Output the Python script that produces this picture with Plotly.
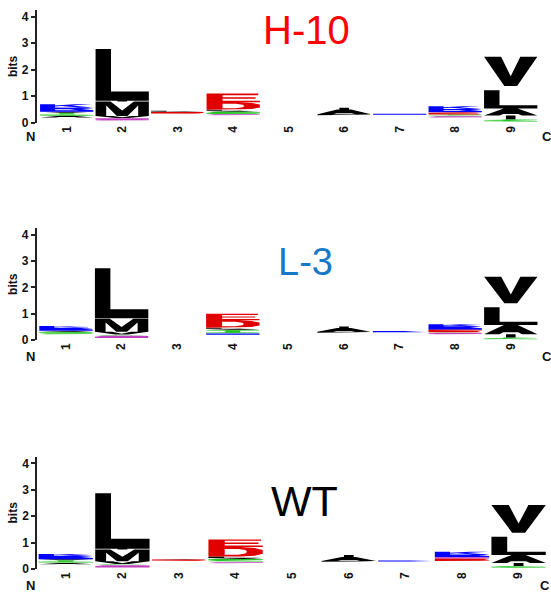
import plotly.graph_objects as go

# ---------------- data ----------------
positions = [1, 2, 3, 4, 5, 6, 7, 8, 9]
tick_labels = ["1", "2", "3", "4", "5", "6", "7", "8", "9"]
panel_titles = ["H-10", "L-3", "WT"]

# height (bits) of the sub-threshold letters at the bottom of each stack (not drawn)
h10_base = [0.20, 0.08, 0.34, 0.28, 0.0, 0.28, 0.30, 0.20, 0.04]
h10_letters = ["ASTVHRK", "QNVMIL", "DEAL", "QSGALDE", "", "PAI", "H", "QSTEDHRK", "STIALV"]
h10_heights = [
    [0.06, 0.06, 0.05, 0.04, 0.06, 0.10, 0.13],
    [0.05, 0.04, 0.08, 0.55, 0.03, 1.95],
    [0.03, 0.03, 0.02, 0.03],
    [0.04, 0.05, 0.04, 0.04, 0.04, 0.28, 0.33],
    [],
    [0.04, 0.18, 0.06],
    [0.04],
    [0.04, 0.04, 0.03, 0.05, 0.03, 0.05, 0.08, 0.10],
    [0.05, 0.03, 0.15, 0.27, 0.68, 1.27],
]

l3_base = [0.22, 0.08, 0.0, 0.20, 0.0, 0.28, 0.30, 0.22, 0.02]
l3_letters = ["GSAHRK", "NQSVMIL", "", "HSTGALDE", "", "PAI", "K", "QSEDHRK", "STIALV"]
l3_heights = [
    [0.04, 0.05, 0.04, 0.05, 0.06, 0.07],
    [0.04, 0.04, 0.03, 0.12, 0.50, 0.02, 1.90],
    [],
    [0.05, 0.05, 0.06, 0.03, 0.04, 0.04, 0.28, 0.25],
    [],
    [0.03, 0.15, 0.05],
    [0.04],
    [0.05, 0.03, 0.05, 0.04, 0.06, 0.07, 0.08],
    [0.05, 0.03, 0.12, 0.35, 0.68, 1.16],
]

wt_base = [0.18, 0.06, 0.30, 0.22, 0.0, 0.27, 0.28, 0.30, 0.04]
wt_letters = ["ASTVHRK", "NQSVMIL", "DEA", "QNSGALDE", "", "PAI", "K", "DENHRK", "STIALV"]
wt_heights = [
    [0.05, 0.05, 0.05, 0.04, 0.05, 0.07, 0.08],
    [0.04, 0.04, 0.03, 0.12, 0.45, 0.03, 2.10],
    [0.03, 0.03, 0.02],
    [0.04, 0.02, 0.05, 0.05, 0.04, 0.05, 0.36, 0.29],
    [],
    [0.03, 0.15, 0.08],
    [0.04],
    [0.04, 0.06, 0.04, 0.05, 0.06, 0.10],
    [0.05, 0.02, 0.12, 0.30, 0.69, 1.20],
]

# ---------------- styling ----------------
COLORS = {}
for aa in "AVLIPWFM":
    COLORS[aa] = "#000000"
for aa in "GSTYC":
    COLORS[aa] = "#1fc41f"
for aa in "KRH":
    COLORS[aa] = "#0000ff"
for aa in "DE":
    COLORS[aa] = "#e00000"
for aa in "QN":
    COLORS[aa] = "#c040c0"

GENERIC = [(0.15, 0), (0.85, 0), (1, 0.2), (1, 0.8), (0.85, 1), (0.15, 1), (0, 0.8), (0, 0.2)]
GLYPHS = {
    "L": [(0, 0), (1, 0), (1, 0.18), (0.29, 0.18), (0.29, 1), (0, 1)],
    "V": [(0, 1), (0.32, 1), (0.5, 0.42), (0.68, 1), (1, 1), (0.62, 0.13), (0.38, 0.13)],
    "M": [(0, 0), (0, 1), (0.28, 1), (0.5, 0.38), (0.72, 1), (1, 1), (1, 0), (0.8, 0),
          (0.8, 0.72), (0.6, 0), (0.4, 0), (0.2, 0.72), (0.2, 0)],
    "E": [(0, 0), (1, 0), (1, 0.19), (0.3, 0.19), (0.3, 0.41), (0.92, 0.41), (0.92, 0.59),
          (0.3, 0.59), (0.3, 0.81), (0.97, 0.81), (0.97, 1), (0, 1)],
    "D": [(0, 0), (0.6, 0), (0.85, 0.1), (1, 0.3), (1, 0.7), (0.85, 0.9), (0.6, 1), (0, 1),
          (0, 0.5), (0.3, 0.5), (0.3, 0.8), (0.55, 0.8), (0.68, 0.68), (0.71, 0.5),
          (0.68, 0.32), (0.55, 0.2), (0.3, 0.2), (0.3, 0.5), (0, 0.5)],
    "A": [(0, 0), (0.37, 1), (0.63, 1), (1, 0), (0.71, 0), (0.64, 0.22), (0.36, 0.22), (0.29, 0)],
    "I": [(0.41, 0), (0.59, 0), (0.59, 1), (0.41, 1)],
    "H": [(0, 0), (0.28, 0), (0.28, 0.42), (0.72, 0.42), (0.72, 0), (1, 0), (1, 1), (0.72, 1),
          (0.72, 0.58), (0.28, 0.58), (0.28, 1), (0, 1)],
    "K": [(0, 0), (0.28, 0), (0.28, 0.3), (0.4, 0.43), (0.72, 0), (1, 0), (0.58, 0.6),
          (0.98, 1), (0.64, 1), (0.28, 0.62), (0.28, 1), (0, 1)],
    "R": [(0, 0), (0.28, 0), (0.28, 0.4), (0.55, 0.4), (0.72, 0), (1, 0), (0.78, 0.46),
          (0.95, 0.6), (1, 0.75), (0.9, 0.95), (0.7, 1), (0, 1)],
    "T": [(0.36, 0), (0.64, 0), (0.64, 0.82), (1, 0.82), (1, 1), (0, 1), (0, 0.82), (0.36, 0.82)],
    "N": [(0, 0), (0.26, 0), (0.26, 0.6), (0.7, 0), (1, 0), (1, 1), (0.74, 1), (0.74, 0.4),
          (0.3, 1), (0, 1)],
    "P": [(0, 0), (0.28, 0), (0.28, 0.38), (0.75, 0.38), (0.95, 0.5), (1, 0.7), (0.95, 0.88),
          (0.75, 1), (0, 1)],
    "S": [(0, 0.1), (0.2, 0), (0.8, 0), (1, 0.15), (1, 0.45), (0.85, 0.55), (0.3, 0.65),
          (0.3, 0.78), (0.7, 0.78), (0.72, 0.7), (1, 0.7), (0.95, 0.9), (0.8, 1), (0.2, 1),
          (0, 0.85), (0, 0.55), (0.15, 0.45), (0.7, 0.35), (0.7, 0.22), (0.3, 0.22),
          (0.28, 0.3), (0, 0.3)],
}

FIG_W, FIG_H = 551, 592
# pixel geometry of each panel: axis x, centre of position 1, step, y of 0 bits, y of 4 bits
panels = [
    dict(title_idx=0, base=h10_base, letters=h10_letters, heights=h10_heights,
         axis_px=36.7, p1=66.7, step=55.5, y0=122.7, y4=16.7, nc_px=(30.0, 546.7, 137.0),
         title_px=(306.7, 30.0), title_size=40, title_color="#ff0000"),
    dict(title_idx=1, base=l3_base, letters=l3_letters, heights=l3_heights,
         axis_px=36.7, p1=66.0, step=55.6, y0=340.0, y4=235.0, nc_px=(30.0, 546.7, 356.7),
         title_px=(305.0, 261.5), title_size=38, title_color="#1878c8"),
    dict(title_idx=2, base=wt_base, letters=wt_letters, heights=wt_heights,
         axis_px=37.2, p1=65.8, step=56.6, y0=569.0, y4=463.3, nc_px=(30.0, 545.0, 585.0),
         title_px=(304.0, 500.5), title_size=43, title_color="#000000"),
]
YMAX = 4.25
STACK_W = 0.96

fig = go.Figure()
layout = dict(width=FIG_W, height=FIG_H, margin=dict(l=0, r=0, t=0, b=0),
              paper_bgcolor="white", plot_bgcolor="white", showlegend=False,
              annotations=[])

axis_font = dict(family="Liberation Sans", size=12, color="#111", weight="bold")
nc_font = dict(family="Liberation Sans", size=13, color="#111", weight="bold")

for k, p in enumerate(panels):
    sfx = "" if k == 0 else str(k + 1)
    xref, yref = "x" + sfx, "y" + sfx
    ppb = (p["y0"] - p["y4"]) / 4.0
    ytop_px = p["y0"] - YMAX * ppb
    ydom = [1 - p["y0"] / FIG_H, 1 - ytop_px / FIG_H]
    xlo = 1 + (p["axis_px"] - p["p1"]) / p["step"]
    xhi = 1 + (FIG_W - p["p1"]) / p["step"]

    # build letter polygons grouped by colour
    groups = {}
    for pos, base, lets, hts in zip(positions, p["base"], p["letters"], p["heights"]):
        y = base
        for aa, h in zip(lets, hts):
            poly = GLYPHS.get(aa, GENERIC)
            col = COLORS.get(aa, "#000000")
            gx, gy = groups.setdefault(col, ([], []))
            for (ux, uy) in poly:
                gx.append(pos + (ux - 0.5) * STACK_W)
                gy.append(y + uy * h)
            gx.append(pos + (poly[0][0] - 0.5) * STACK_W)
            gy.append(y + poly[0][1] * h)
            gx.append(None)
            gy.append(None)
            y += h
    for col, (gx, gy) in groups.items():
        fig.add_trace(go.Scatter(x=gx, y=gy, mode="lines", fill="toself", fillcolor=col,
                                 line=dict(width=0, color=col), hoverinfo="skip",
                                 xaxis=xref, yaxis=yref))

    layout["xaxis" + sfx] = dict(domain=[p["axis_px"] / FIG_W, 1], range=[xlo, xhi],
                                 tickvals=positions, ticktext=tick_labels, tickangle=-90,
                                 ticks="", showline=False, showgrid=False, zeroline=False,
                                 tickfont=dict(family="Liberation Sans", size=12,
                                               color="#111", weight="bold"),
                                 anchor=yref, automargin=False, fixedrange=True)
    layout["yaxis" + sfx] = dict(domain=ydom, range=[0, YMAX], tickvals=[0, 1, 2, 3, 4],
                                 ticks="outside", ticklen=4, tickwidth=1.5, tickcolor="#222",
                                 showline=True, linewidth=1.5, linecolor="#222",
                                 showgrid=False, zeroline=False, tickfont=axis_font,
                                 title=dict(text="bits", font=axis_font, standoff=2),
                                 anchor=xref, automargin=False, fixedrange=True)

    # N / C terminus labels
    nx, cx, ncy = p["nc_px"]
    for txt, xx in (("N", nx), ("C", cx)):
        layout["annotations"].append(dict(text=txt, x=xx / FIG_W, y=1 - ncy / FIG_H,
                                          xref="paper", yref="paper", showarrow=False,
                                          xanchor="center", yanchor="middle", font=nc_font))
    # panel title
    tx, ty = p["title_px"]
    layout["annotations"].append(dict(text=panel_titles[p["title_idx"]],
                                      x=tx / FIG_W, y=1 - ty / FIG_H,
                                      xref="paper", yref="paper", showarrow=False,
                                      xanchor="center", yanchor="middle",
                                      font=dict(family="Liberation Sans",
                                                size=p["title_size"], color=p["title_color"])))

fig.update_layout(**layout)
fig.write_html("out.html", config={"displayModeBar": False},
               post_script="document.body.style.margin='0';document.body.style.overflow='hidden';")
